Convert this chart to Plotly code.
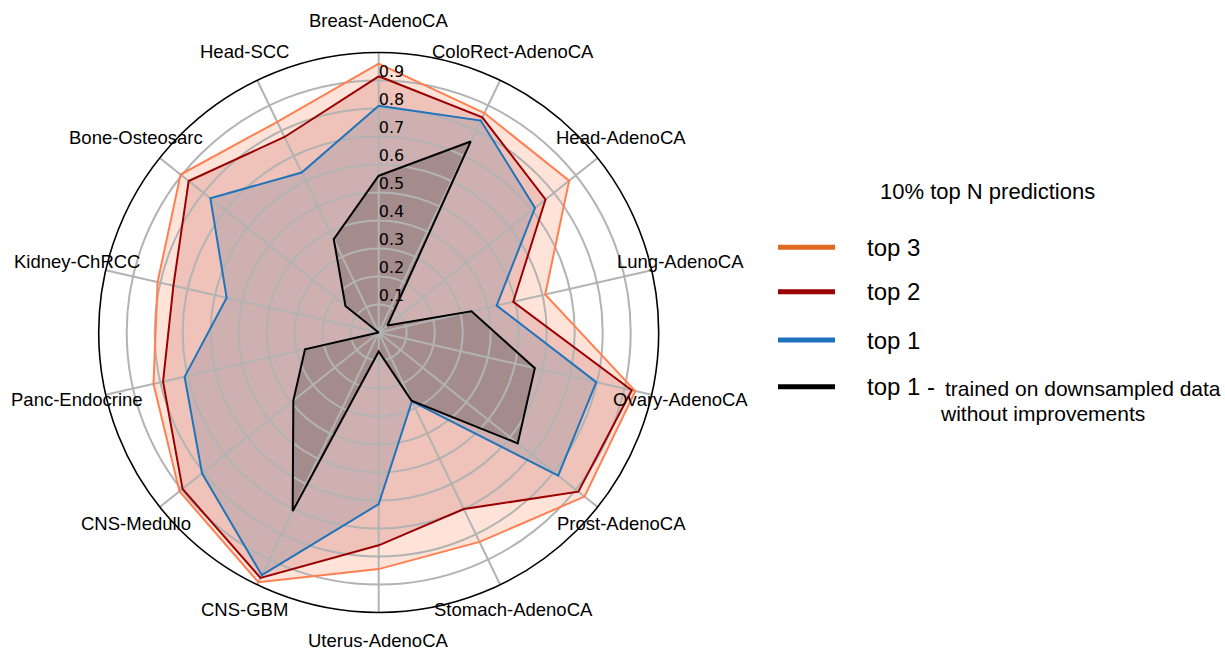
import math
import plotly.graph_objects as go

# Cancer types, clockwise from the top of the radar
categories = ["Breast-AdenoCA", "ColoRect-AdenoCA", "Head-AdenoCA", "Lung-AdenoCA",
              "Ovary-AdenoCA", "Prost-AdenoCA", "Stomach-AdenoCA", "Uterus-AdenoCA",
              "CNS-GBM", "CNS-Medullo", "Panc-Endocrine", "Kidney-ChRCC",
              "Bone-Osteosarc", "Head-SCC"]

# Accuracy per cancer type
top3 = [0.96, 0.87, 0.87, 0.61, 0.94, 0.94, 0.83, 0.845, 0.99, 0.91, 0.825, 0.81, 0.905, 0.835]
top2 = [0.915, 0.853, 0.762, 0.493, 0.927, 0.912, 0.70, 0.76, 0.973, 0.896, 0.79, 0.752, 0.868, 0.775]
top1 = [0.81, 0.84, 0.714, 0.432, 0.797, 0.82, 0.273, 0.613, 0.962, 0.807, 0.711, 0.557, 0.769, 0.634]
top1_downsampled = [0.56, 0.757, 0.04, 0.34, 0.572, 0.635, 0.27, 0.068, 0.708, 0.39, 0.27, 0.0, 0.152, 0.37]

r_ticks = [0.1, 0.2, 0.3, 0.4, 0.5, 0.6, 0.7, 0.8, 0.9]
tick_labels = ["0.1", "0.2", "0.3", "0.4", "0.5", "0.6", "0.7", "0.8", "0.9"]

legend_title = "10% top N predictions"
legend_names = ["top 3", "top 2", "top 1", "top 1 - "]
legend_extra = "trained on downsampled data"
legend_extra2 = "without improvements"

W, H = 1225, 651
CX, CY, R = 378.7, 332.5, 280.0   # polar centre and radius in pixels
LABEL_R = 1.107                    # radius of the category labels, in units of R

series = [
    (top3, "#ff7f50", "rgba(255,127,80,0.22)"),
    (top2, "#9b0000", "rgba(139,0,0,0.14)"),
    (top1, "#1f74bb", "rgba(79,102,142,0.2)"),
    (top1_downsampled, "#000000", "rgba(0,0,0,0.2)"),
]
legend_colors = ["#e06a22", "#990000", "#1f70bb", "#000000"]


def closed(v):
    return list(v) + [v[0]]


fig = go.Figure()

# filled areas on the bottom subplot, grid and outlines on a transparent overlay
for values, line_color, fill_color in series:
    fig.add_trace(go.Scatterpolar(
        r=closed(values), theta=closed(categories), mode="lines",
        fill="toself", fillcolor=fill_color, line=dict(width=0, color=fill_color),
        showlegend=False, hoverinfo="skip", subplot="polar",
    ))
for values, line_color, fill_color in series:
    fig.add_trace(go.Scatterpolar(
        r=closed(values), theta=closed(categories), mode="lines",
        line=dict(color=line_color, width=2),
        showlegend=False, hoverinfo="skip", subplot="polar2",
    ))

# radial tick labels along the upward spoke
fig.add_trace(go.Scatterpolar(
    r=r_ticks, theta=[categories[0]] * len(r_ticks), mode="text",
    text=tick_labels, textposition="top right",
    textfont=dict(family="DejaVu Sans", size=16, color="black"),
    showlegend=False, hoverinfo="skip", cliponaxis=False, subplot="polar2",
))

grid = "#b3b3b3"
domain = dict(x=[(CX - R) / W, (CX + R) / W],
              y=[(H - CY - R) / H, (H - CY + R) / H])


def polar_layout(with_grid):
    return dict(
        domain=domain,
        bgcolor="rgba(0,0,0,0)",
        angularaxis=dict(
            type="category", categoryarray=categories,
            rotation=90, direction="clockwise",
            showticklabels=False, ticks="",
            showline=with_grid, linecolor="black", linewidth=1.6,
            showgrid=with_grid, gridcolor=grid, gridwidth=1.5,
        ),
        radialaxis=dict(
            range=[0, 1], tickvals=r_ticks,
            showticklabels=False, ticks="", showline=False,
            showgrid=with_grid, gridcolor=grid, gridwidth=1.5,
        ),
    )


fig.update_layout(
    width=W, height=H,
    margin=dict(l=0, r=0, t=0, b=0),
    paper_bgcolor="white",
    plot_bgcolor="white",
    showlegend=False,
    polar=polar_layout(False),
    polar2=polar_layout(True),
)

# category labels just outside the outer circle
n = len(categories)
for i, name in enumerate(categories):
    ang = math.radians(90 - 360.0 * i / n)
    px = CX + LABEL_R * R * math.cos(ang)
    py = CY - LABEL_R * R * math.sin(ang)
    fig.add_annotation(xref="paper", yref="paper", x=px / W, y=1 - py / H,
                       text=name, showarrow=False, xanchor="center", yanchor="middle",
                       yshift=2,
                       font=dict(family="Liberation Sans, Arial", size=18.5, color="black"))

# hand-built legend on the right
legend_y = [247.3, 291.7, 340.0, 386.7]
for name, color, y in zip(legend_names, legend_colors, legend_y):
    fig.add_shape(type="line", xref="paper", yref="paper",
                  x0=778 / W, x1=835 / W, y0=1 - y / H, y1=1 - y / H,
                  line=dict(color=color, width=5))
    fig.add_annotation(xref="paper", yref="paper", x=865 / W, y=1 - y / H,
                       text=name, showarrow=False, xanchor="left", yanchor="middle",
                       font=dict(family="Liberation Sans, Arial", size=24, color="black"))

fig.add_annotation(xref="paper", yref="paper", x=987 / W, y=1 - 191 / H,
                   text=legend_title, showarrow=False, xanchor="center", yanchor="middle",
                   font=dict(family="Liberation Sans, Arial", size=22, color="black"))
fig.add_annotation(xref="paper", yref="paper", x=943 / W, y=1 - 388 / H,
                   text=legend_extra, showarrow=False, xanchor="left", yanchor="middle",
                   font=dict(family="Liberation Sans, Arial", size=21, color="black"))
fig.add_annotation(xref="paper", yref="paper", x=1042 / W, y=1 - 413 / H,
                   text=legend_extra2, showarrow=False, xanchor="center", yanchor="middle",
                   font=dict(family="Liberation Sans, Arial", size=21, color="black"))

fig.write_html("out.html")
